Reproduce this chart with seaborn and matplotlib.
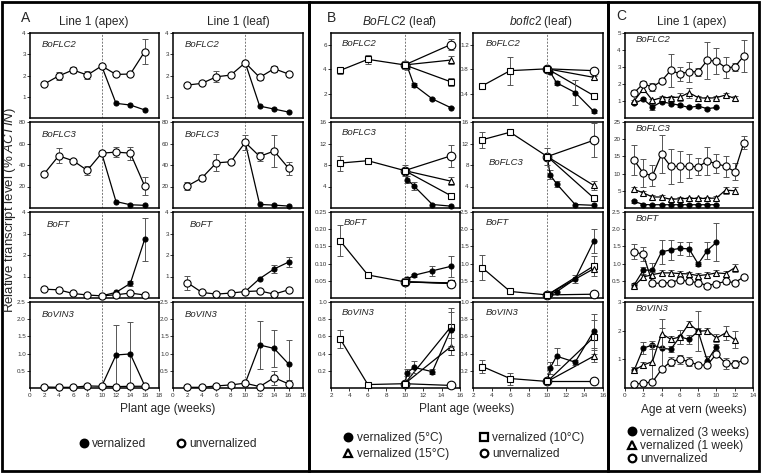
import matplotlib
matplotlib.use("Agg")
import matplotlib.pyplot as plt
import seaborn as sns
from matplotlib.patches import Rectangle
from matplotlib.lines import Line2D
from matplotlib.ticker import FormatStrFormatter

GENES = ["BoFLC2", "BoFLC3", "BoFT", "BoVIN3"]

# ---- Panel A: Line 1, apex / leaf (rows: FLC2, FLC3, FT, VIN3)
A_WEEKS = [2, 4, 6, 8, 10, 12, 14, 16]
A_VERN_WEEKS = [10, 12, 14, 16]
apex_unv = [[1.6, 1.98, 2.26, 2.02, 2.45, 2.05, 2.07, 3.12],
            [32, 48.5, 44, 35, 51, 52, 51, 20.5],
            [0.41, 0.38, 0.21, 0.14, 0.1, 0.15, 0.23, 0.14],
            [0.03, 0.02, 0.02, 0.06, 0.05, 0.04, 0.05, 0.05]]
apex_unv_err = [[0, 0.2, 0.15, 0.2, 0, 0, 0, 0.6],
                [0, 7, 0, 4, 0, 5, 6, 8],
                [0, 0, 0, 0, 0, 0, 0.05, 0],
                [0, 0, 0, 0, 0, 0, 0, 0]]
apex_vern = [[2.45, 0.69, 0.61, 0.38],
             [51, 6, 3, 2.5],
             [0.1, 0.26, 0.68, 2.73],
             [0.05, 0.96, 0.99, 0.07]]
apex_vern_err = [[0, 0, 0, 0],
                 [0, 0, 0, 0],
                 [0, 0, 0.12, 1.0],
                 [0, 0.88, 0.94, 0]]
leaf_unv = [[1.55, 1.63, 1.94, 2.02, 2.6, 1.91, 2.32, 2.07],
            [20.5, 28, 42, 43, 61, 48, 53, 37],
            [0.71, 0.26, 0.18, 0.23, 0.3, 0.33, 0.18, 0.38],
            [0.02, 0.02, 0.06, 0.09, 0.14, 0.04, 0.3, 0.12]]
leaf_unv_err = [[0, 0, 0.25, 0.1, 0, 0.1, 0.15, 0],
                [4, 3, 8, 2, 7, 4, 15, 6],
                [0.32, 0, 0, 0, 0, 0, 0, 0],
                [0, 0, 0, 0, 0.05, 0, 0.2, 0.1]]
leaf_vern = [[2.6, 0.56, 0.42, 0.28],
             [61, 3.3, 2.7, 1.8],
             [0.3, 0.9, 1.35, 1.67],
             [0.14, 1.25, 1.15, 0.7]]
leaf_vern_err = [[0, 0, 0, 0],
                 [0, 0, 0, 0],
                 [0, 0, 0.2, 0.22],
                 [0, 0.7, 0.53, 0.7]]

# ---- Panel B: BoFLC2 (leaf) and boflc2 (leaf)
B_PRE_WEEKS = [3, 6, 10]
B_5C_WEEKS = [10, 10.3, 11, 13, 15]
B_END_WEEKS = [10, 15]
wt_pre = [[3.92, 4.83, 4.37], [8.36, 8.8, 6.96], [0.166, 0.067, 0.047], [0.57, 0.04, 0.05]]
wt_pre_err = [[0.3, 0.35, 0.35], [1.4, 0.5, 1.0], [0.045, 0.005, 0.01], [0.1, 0, 0]]
wt_5c = [[4.37, 4.2, 2.72, 1.57, 0.85], [6.96, 5.3, 4.1, 0.65, 0.35],
         [0.047, 0.055, 0.066, 0.079, 0.092], [0.05, 0.18, 0.24, 0.19, 0.68]]
wt_5c_err = [[0, 0.2, 0.2, 0.05, 0.05], [0, 0.7, 0.7, 0, 0],
             [0, 0.005, 0.005, 0.015, 0.03], [0, 0.04, 0.07, 0.03, 0.2]]
wt_10c = [[4.37, 2.98], [6.96, 2.3], [0.047, 0.043], [0.05, 0.71]]
wt_10c_err = [[0, 0.35], [0, 0.4], [0, 0.005], [0, 0.22]]
wt_15c = [[4.37, 4.77], [6.96, 5.0], [0.047, 0.044], [0.05, 0.48]]
wt_15c_err = [[0, 0.3], [0, 0.8], [0, 0.004], [0, 0.1]]
wt_unv = [[4.37, 6.05], [6.96, 9.7], [0.047, 0.042], [0.05, 0.03]]
wt_unv_err = [[0, 0.45], [0, 2.0], [0, 0], [0, 0]]

mut_pre = [[0.53, 0.78, 0.81], [12.7, 14.1, 9.57], [0.88, 0.19, 0.09], [0.25, 0.11, 0.076]]
mut_pre_err = [[0.02, 0.23, 0.03], [1.5, 0.6, 1.5], [0.37, 0.03, 0.02], [0.07, 0.07, 0]]
mut_5c = [[0.81, 0.76, 0.58, 0.42, 0.11], [9.57, 6.2, 4.5, 0.65, 0.5],
          [0.09, 0.11, 0.18, 0.55, 1.65], [0.076, 0.23, 0.37, 0.3, 0.66]]
mut_5c_err = [[0, 0, 0.03, 0.21, 0.02], [0, 0.8, 0.6, 0, 0],
              [0, 0, 0, 0.12, 0.35], [0, 0.07, 0.1, 0.03, 0.2]]
mut_10c = [[0.81, 0.37], [9.57, 1.87], [0.09, 0.93], [0.076, 0.59]]
mut_10c_err = [[0, 0.03], [0, 0.4], [0, 0.28], [0, 0.2]]
mut_15c = [[0.81, 0.67], [9.57, 4.2], [0.09, 0.85], [0.076, 0.37]]
mut_15c_err = [[0, 0.03], [0, 0.8], [0, 0], [0, 0.07]]
mut_unv = [[0.81, 0.78], [9.57, 12.6], [0.09, 0.11], [0.076, 0.076]]
mut_unv_err = [[0, 0.03], [0, 3.2], [0, 0], [0, 0]]

# ---- Panel C: Line 1 (apex), age at vernalization
C_AGES = list(range(1, 14))
C_1WK_AGES = list(range(1, 13))
C_3WK_AGES = list(range(1, 11))
c_unv = [[1.49, 2.02, 1.82, 2.18, 2.8, 2.6, 2.72, 2.72, 3.39, 3.35, 2.96, 3.0, 3.65],
         [13.9, 10.1, 9.4, 15.6, 12.1, 12.1, 12.1, 12.0, 13.6, 12.9, 12.1, 10.6, 19.0],
         [1.34, 1.27, 0.43, 0.43, 0.45, 0.53, 0.48, 0.45, 0.36, 0.42, 0.48, 0.45, 0.61],
         [0.13, 0.17, 0.21, 0.65, 0.92, 1.0, 0.92, 0.8, 0.8, 1.19, 0.86, 0.84, 0.98]]
c_unv_err = [[0.15, 0.15, 0.25, 0.15, 0.95, 0.4, 0.6, 0.25, 1.1, 0.75, 0.6, 0.25, 0.95],
             [4.3, 4, 3, 5.5, 5, 4.5, 3.5, 2.5, 4, 2.8, 3, 2.5, 1.8],
             [0.22, 0.2, 0.07, 0.07, 0.07, 0.1, 0.07, 0.07, 0.05, 0.07, 0.07, 0.07, 0.07],
             [0.03, 0.03, 0.03, 0.1, 0.15, 0.15, 0.15, 0.07, 0.07, 0.1, 0.2, 0.15, 0.05]]
c_1wk = [[1.0, 1.72, 1.04, 1.2, 1.2, 1.23, 1.49, 1.2, 1.16, 1.2, 1.35, 1.15],
         [5.4, 4.4, 3.2, 3.2, 2.5, 2.7, 2.8, 2.8, 2.8, 2.9, 5.2, 5.0],
         [0.35, 0.61, 0.68, 0.73, 0.73, 0.71, 0.7, 0.65, 0.68, 0.73, 0.71, 0.88],
         [0.62, 0.8, 0.92, 1.9, 1.7, 1.78, 2.25, 1.98, 2.0, 1.74, 1.92, 1.68]]
c_1wk_err = [[0.05, 0.15, 0.1, 0.1, 0.1, 0.25, 0.3, 0.1, 0.1, 0.1, 0.12, 0.12],
             [0.8, 0.5, 0.5, 0.7, 0.5, 0.5, 0.5, 0.5, 0.5, 0.5, 1.0, 1.0],
             [0.05, 0.07, 0.07, 0.07, 0.07, 0.07, 0.07, 0.07, 0.07, 0.07, 0.07, 0.12],
             [0.1, 0.1, 0.6, 0.5, 0.1, 0.25, 0.1, 0.1, 0.1, 0.15, 0.25, 0.3]]
c_3wk = [[0.86, 1.1, 0.65, 0.96, 0.85, 0.75, 0.62, 0.7, 0.55, 0.62],
         [1.95, 1.0, 0.95, 0.95, 0.95, 0.95, 0.95, 0.95, 0.95, 0.95],
         [0.38, 0.81, 0.81, 1.34, 1.4, 1.44, 1.43, 0.99, 1.38, 1.62],
         [0.62, 1.39, 1.5, 1.39, 1.35, 1.78, 1.7, 1.98, 0.95, 1.44]]
c_3wk_err = [[0.05, 0.05, 0.15, 0.05, 0.1, 0.1, 0.05, 0.1, 0.05, 0.05],
             [0.5, 0.2, 0.1, 0.1, 0.1, 0.1, 0.1, 0.1, 0.1, 0.1],
             [0.05, 0.1, 0.2, 0.35, 0.3, 0.2, 0.2, 0.07, 0.25, 0.55],
             [0.1, 0.2, 0.15, 0.7, 0.1, 0.25, 0.15, 0.7, 0.15, 0.1]]

W, H = 762, 474

sns.set_theme(style="ticks")
plt.rcParams['font.family'] = ['Liberation Sans', 'DejaVu Sans']
plt.rcParams['mathtext.fontset'] = 'custom'
plt.rcParams['mathtext.it'] = 'Liberation Sans:italic'
plt.rcParams['mathtext.rm'] = 'Liberation Sans'

fig = plt.figure(figsize=(W / 100, H / 100), dpi=100)

ROWS = [(33, 118), (122, 208), (212, 298), (302, 388)]

OPEN = dict(marker='o', markerfacecolor='white', markersize=5.2)
OPEN_BIG = dict(marker='o', markerfacecolor='white', markersize=6.2)
FILLED = dict(marker='o', markerfacecolor='black', markersize=3.6)
SQUARE = dict(marker='s', markerfacecolor='white', markersize=4.6)
TRI = dict(marker='^', markerfacecolor='white', markersize=4.6)


def px_axes(x0, y0, x1, y1):
    return fig.add_axes([x0 / W, 1 - y1 / H, (x1 - x0) / W, (y1 - y0) / H])


def ftext(x, y, s, **kw):
    kw.setdefault('ha', 'center')
    kw.setdefault('va', 'center')
    fig.text(x / W, 1 - y / H, s, **kw)


def series(ax, x, y, err, style, z=3, markevery=None):
    sns.lineplot(x=x, y=y, ax=ax, color='black', linewidth=0.9,
                 markeredgecolor='black', markeredgewidth=0.8,
                 errorbar=None, legend=False, sort=False, zorder=z,
                 markevery=markevery, **style)
    ax.lines[-1].set_clip_on(False)
    pts = [(a, b, e) for a, b, e in zip(x, y, err) if e > 0]
    if pts:
        ex, ey, ee = zip(*pts)
        eb = ax.errorbar(ex, ey, yerr=ee, fmt='none', ecolor='#555555',
                         elinewidth=0.7, capsize=2.0, capthick=0.7, zorder=z - 0.5)
        for art in eb.get_children():
            art.set_clip_on(False)


def style_axes(ax, xlim, xticks, ylim, yticks, yfmt, bottom):
    ax.set_xlim(*xlim)
    ax.set_ylim(*ylim)
    ax.set_yticks(yticks)
    ax.yaxis.set_major_formatter(FormatStrFormatter(yfmt))
    ax.set_xticks(xticks)
    ax.set_xlabel('')
    ax.set_ylabel('')
    for sp in ax.spines.values():
        sp.set_linewidth(1.1)
        sp.set_color('black')
    ax.tick_params(axis='y', length=2.2, width=0.7, labelsize=4.5, pad=0.8,
                   colors='#333333')
    if bottom:
        ax.tick_params(axis='x', length=2.2, width=0.7, labelsize=4.6, pad=1.2,
                       colors='#333333')
    else:
        ax.tick_params(axis='x', bottom=False, labelbottom=False)


def gene_label(ax, r, pos):
    ax.text(pos[0], pos[1], GENES[r], transform=ax.transAxes, fontsize=6.8,
            fontstyle='italic', ha='left', va='center', zorder=10)


# ---------------- Panel A
A_LIMS = [(0, 4), (0, 80), (0, 4), (0, 2.5)]
A_TICKS = [[1, 2, 3, 4], [20, 40, 60, 80], [1, 2, 3, 4], [0.5, 1.0, 1.5, 2.0, 2.5]]
A_FMT = ['%g', '%g', '%g', '%.1f']
A_LABEL_POS = [(0.09, 0.86), (0.09, 0.86), (0.13, 0.86), (0.09, 0.86)]
for x0, x1, unv, unv_e, vern, vern_e in [(30, 159, apex_unv, apex_unv_err, apex_vern, apex_vern_err),
                                         (173, 303, leaf_unv, leaf_unv_err, leaf_vern, leaf_vern_err)]:
    for r in range(4):
        ax = px_axes(x0, ROWS[r][0], x1, ROWS[r][1])
        ax.axvline(10, color='#777777', lw=0.7, ls=(0, (2, 1.5)), zorder=0)
        series(ax, A_VERN_WEEKS, vern[r], vern_e[r], FILLED, z=3)
        series(ax, A_WEEKS, unv[r], unv_e[r], OPEN, z=5)
        style_axes(ax, (0, 18), range(0, 19, 2), A_LIMS[r], A_TICKS[r], A_FMT[r], r == 3)
        gene_label(ax, r, A_LABEL_POS[r])

# ---------------- Panel B
B_LIMS = [[(0, 7), (0, 16), (0, 0.25), (0, 1.0)],
          [(0, 1.4), (0, 16), (0, 2.5), (0, 1.0)]]
B_TICKS = [[[2, 4, 6], [4, 8, 12, 16], [0.05, 0.10, 0.15, 0.20, 0.25], [0.2, 0.4, 0.6, 0.8, 1.0]],
           [[0.4, 0.8, 1.2], [4, 8, 12, 16], [0.5, 1.0, 1.5, 2.0, 2.5], [0.2, 0.4, 0.6, 0.8, 1.0]]]
B_FMT = [['%g', '%g', '%.2f', '%.1f'], ['%.1f', '%g', '%.1f', '%.1f']]
B_LABEL_POS = [[(0.08, 0.88), (0.08, 0.88), (0.1, 0.88), (0.08, 0.88)],
               [(0.1, 0.88), (0.12, 0.53), (0.1, 0.88), (0.1, 0.88)]]
b_sets = [(331, 460, wt_pre, wt_pre_err, wt_5c, wt_5c_err, wt_10c, wt_10c_err,
           wt_15c, wt_15c_err, wt_unv, wt_unv_err),
          (473, 603, mut_pre, mut_pre_err, mut_5c, mut_5c_err, mut_10c, mut_10c_err,
           mut_15c, mut_15c_err, mut_unv, mut_unv_err)]
for c, (x0, x1, pre, pre_e, v5, v5_e, v10, v10_e, v15, v15_e, unv, unv_e) in enumerate(b_sets):
    for r in range(4):
        ax = px_axes(x0, ROWS[r][0], x1, ROWS[r][1])
        ax.axvline(10, color='#777777', lw=0.7, ls=(0, (2, 1.5)), zorder=0)
        series(ax, B_END_WEEKS, v10[r], v10_e[r], SQUARE, z=3, markevery=[1])
        series(ax, B_END_WEEKS, v15[r], v15_e[r], TRI, z=3, markevery=[1])
        series(ax, B_5C_WEEKS, v5[r], v5_e[r], FILLED, z=4, markevery=[1, 2, 3, 4])
        series(ax, B_END_WEEKS, unv[r], unv_e[r], OPEN_BIG, z=5)
        series(ax, B_PRE_WEEKS, pre[r], pre_e[r], SQUARE, z=6)
        style_axes(ax, (2, 16), range(2, 17, 2), B_LIMS[c][r], B_TICKS[c][r], B_FMT[c][r], r == 3)
        gene_label(ax, r, B_LABEL_POS[c][r])

# ---------------- Panel C
C_LIMS = [(0, 5), (0, 25), (0, 2.5), (0, 3)]
C_TICKS = [[1, 2, 3, 4, 5], [5, 10, 15, 20, 25], [0.5, 1.0, 1.5, 2.0, 2.5], [1, 2, 3]]
C_FMT = ['%g', '%g', '%.1f', '%g']
for r in range(4):
    ax = px_axes(625, ROWS[r][0], 753, ROWS[r][1])
    series(ax, C_3WK_AGES, c_3wk[r], c_3wk_err[r], FILLED, z=3)
    series(ax, C_1WK_AGES, c_1wk[r], c_1wk_err[r], TRI, z=4)
    series(ax, C_AGES, c_unv[r], c_unv_err[r], OPEN, z=5)
    style_axes(ax, (0, 14), range(0, 15, 2), C_LIMS[r], C_TICKS[r], C_FMT[r], r == 3)
    gene_label(ax, r, (0.08, 0.92))

# ---------------- panel frames and text
for x0, x1 in [(2, 309), (309, 608), (608, 759)]:
    fig.add_artist(Rectangle((x0 / W, 1 - 471 / H), (x1 - x0) / W, 469 / H,
                             transform=fig.transFigure, fill=False, lw=2, ec='black'))

TXT = 8.6
ftext(26, 18, "A", fontsize=10)
ftext(94, 22, "Line 1 (apex)", fontsize=TXT)
ftext(238, 22, "Line 1 (leaf)", fontsize=TXT)
ftext(10, 210, r"Relative transcript level (% $\it{ACTIN}$)", fontsize=9.5, rotation=90)
ftext(168, 409, "Plant age (weeks)", fontsize=TXT)

ftext(331, 18, "B", fontsize=10)
ftext(400, 22, r"$\it{BoFLC2}$ (leaf)", fontsize=TXT)
ftext(541, 22, r"$\it{boflc2}$ (leaf)", fontsize=TXT)
ftext(467, 409, "Plant age (weeks)", fontsize=TXT)

ftext(621, 16, "C", fontsize=10)
ftext(694, 410, "Age at vern (weeks)", fontsize=TXT)
ftext(692, 22, "Line 1 (apex)", fontsize=TXT)


def handle(marker, fc, ms=5.5):
    return Line2D([], [], ls='none', marker=marker, markerfacecolor=fc,
                  markeredgecolor='black', markeredgewidth=1.6, markersize=ms)


leg_kw = dict(loc='center', frameon=False, fontsize=TXT, handlelength=0.8,
              handletextpad=0.3, borderpad=0, borderaxespad=0)
fig.legend([handle('o', 'black'), handle('o', 'white')], ['vernalized', 'unvernalized'],
           bbox_to_anchor=(168 / W, 1 - 444 / H), ncol=2, columnspacing=2.5,
           labelspacing=0.25, **leg_kw)
fig.legend([handle('o', 'black'), handle('^', 'white'), handle('s', 'white'), handle('o', 'white')],
           ['vernalized (5°C)', 'vernalized (15°C)', 'vernalized (10°C)', 'unvernalized'],
           bbox_to_anchor=(464 / W, 1 - 446 / H), ncol=2, columnspacing=2.5,
           labelspacing=0.3, **leg_kw)
fig.legend([handle('o', 'black'), handle('^', 'white'), handle('o', 'white')],
           ['vernalized (3 weeks)', 'vernalized (1 week)', 'unvernalized'],
           bbox_to_anchor=(688 / W, 1 - 446 / H), ncol=1, labelspacing=0.12, **leg_kw)

fig.savefig("out.png", dpi=100)
